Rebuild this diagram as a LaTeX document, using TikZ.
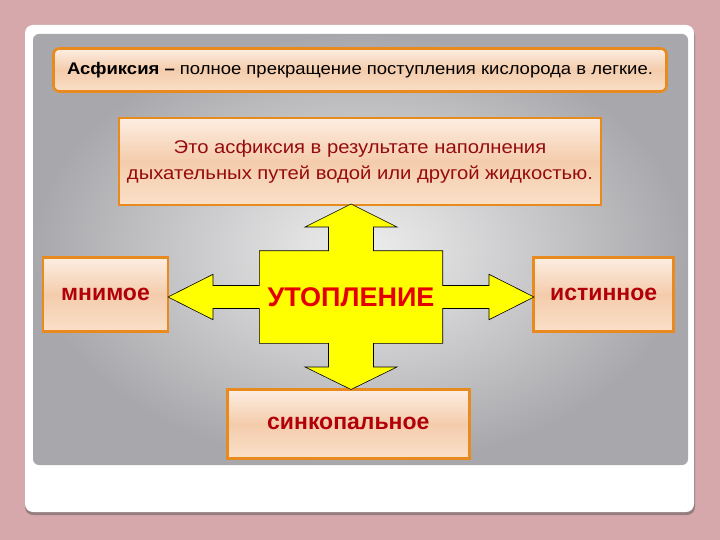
\documentclass[tikz,border=0pt]{standalone}
\usepackage{fontspec}
\setmainfont{Liberation Sans}
\newfontfamily\widesans[FakeStretch=1.1]{Liberation Sans}
\definecolor{bgpink}{RGB}{214,168,172}
\definecolor{slideshadow}{RGB}{150,125,128}
\definecolor{panelin}{RGB}{238,238,238}
\definecolor{panelout}{RGB}{168,168,172}
\definecolor{boxedge}{RGB}{232,138,30}
\definecolor{boxtop}{RGB}{253,238,226}
\definecolor{boxmid}{RGB}{244,204,172}
\definecolor{boxbot}{RGB}{250,224,200}
\definecolor{txtred}{RGB}{178,0,10}
\definecolor{deepred}{RGB}{150,12,12}
\definecolor{crossred}{RGB}{228,0,0}
\definecolor{crossyellow}{RGB}{255,255,0}
\tikzset{
	orbox/.style={draw=boxedge,line width=2.6pt,top color=boxtop,bottom color=boxbot,middle color=boxmid,inner sep=0pt,align=center},
	lbl/.style={orbox,font=\bfseries\fontsize{23}{26}\selectfont,text=txtred},
}
\begin{document}
\begin{tikzpicture}[x=1pt,y=-1pt]
				\useasboundingbox (0,0) rectangle (720,540);
				\fill[bgpink] (0,0) rectangle (720,540);
				\fill[slideshadow,rounded corners=8pt] (25,28) rectangle (695,515);
				\fill[white,rounded corners=8pt] (25,25) rectangle (694,512);
				\shade[rounded corners=6pt,inner color=panelin,outer color=panelout] (33,34) rectangle (688,465);

				\node[orbox,rounded corners=6pt,minimum width=613pt,minimum height=43pt,font=\widesans\fontsize{16.8}{19}\selectfont] (asph) at (360,70)
					{\textbf{Асфиксия –} полное прекращение поступления кислорода в легкие.};
				\node[orbox,minimum width=482pt,minimum height=87pt,font=\widesans\fontsize{18.4}{25}\selectfont,text=deepred] (defn) at (360,161.5)
					{Это асфиксия в результате наполнения\\[1pt]дыхательных путей водой или другой жидкостью.};

				\node[lbl,minimum width=125pt,minimum height=74pt,text depth=-3pt] (false) at (105.5,294.5){мнимое};
				\node[lbl,minimum width=140pt,minimum height=74pt,text depth=-3pt] (true) at (603.7,294.5){истинное};
				\node[lbl,minimum width=242pt,minimum height=69pt] (sync) at (348.3,423.8){синкопальное};

				\coordinate (c) at (351,297);
				\begin{scope}[shift={(c)}]
					\filldraw[fill=crossyellow,draw=black,line width=0.6pt,line join=miter]
					(0,-93) -- (46,-70) -- (22.5,-70) -- (22.5,-46.3) -- (91.7,-46.3) -- (91.7,-11.5) -- (138,-11.5) -- (138,-22.7) -- (183,0)
					-- (138,22.7) -- (138,11.5) -- (91.7,11.5) -- (91.7,46.3) -- (22.5,46.3) -- (22.5,70) -- (46,70) -- (0,92.5)
					-- (-46,70) -- (-22.5,70) -- (-22.5,46.3) -- (-91.7,46.3) -- (-91.7,11.5) -- (-138,11.5) -- (-138,22.7) -- (-183,0)
					-- (-138,-22.7) -- (-138,-11.5) -- (-91.7,-11.5) -- (-91.7,-46.3) -- (-22.5,-46.3) -- (-22.5,-70) -- (-46,-70) -- cycle;
				\end{scope}
				\node[font=\bfseries\fontsize{27}{30}\selectfont,text=crossred] (drown) at (c){УТОПЛЕНИЕ};
			\end{tikzpicture}
\end{document}
